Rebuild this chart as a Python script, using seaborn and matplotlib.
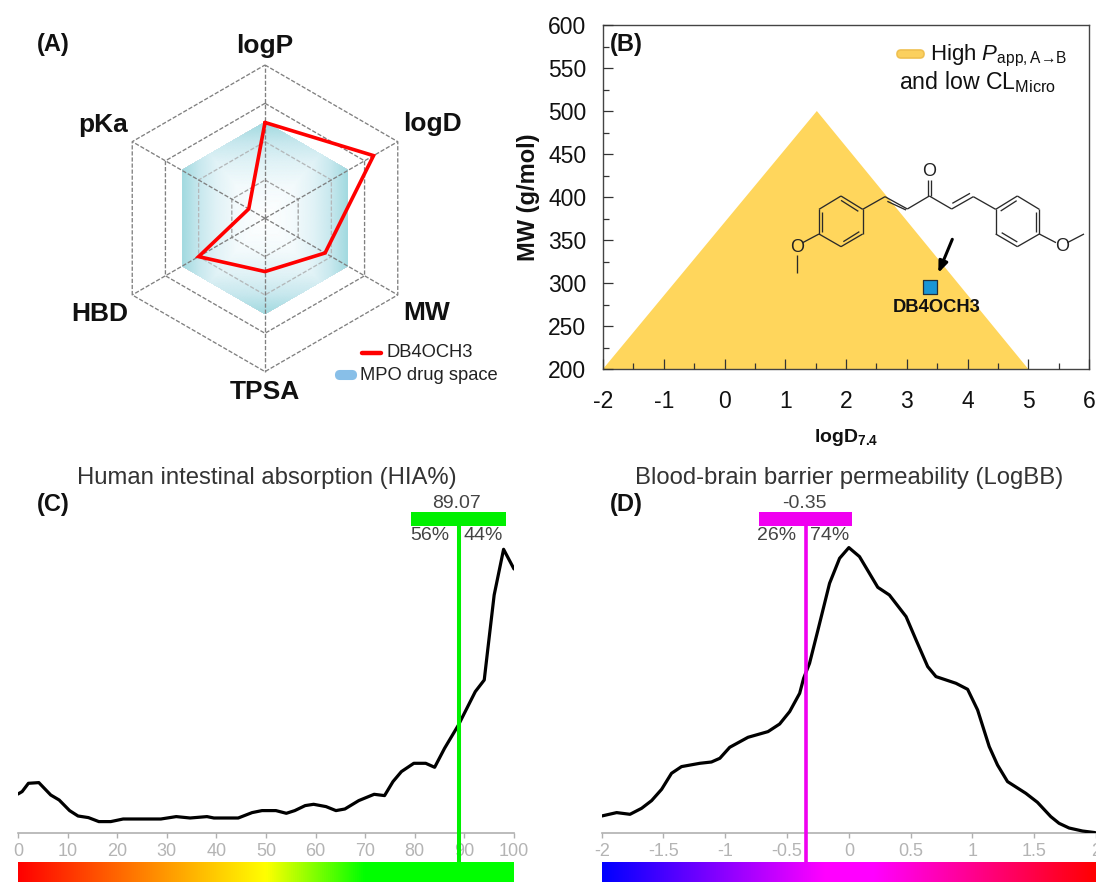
import numpy as np
import pandas as pd
import matplotlib
matplotlib.use("Agg")
import matplotlib.pyplot as plt
import seaborn as sns
from matplotlib.collections import LineCollection
from matplotlib.colors import LinearSegmentedColormap
from matplotlib.patches import FancyBboxPatch

# ---------------- data ----------------
RADAR_AXES = ["logP", "logD", "MW", "TPSA", "HBD", "pKa"]
DB4OCH3_SCORES = [2.5, 3.27, 1.81, 1.39, 2.0, 0.49]
MPO_SPACE_SCORE = 2.5
RADAR_RINGS = [1, 2, 3, 4]

TRI_LOGD = [-2, 1.52, 5]
TRI_MW = [200, 500, 200]
COMPOUND_LOGD = [3.38]
COMPOUND_MW = [295]

HIA_X = [0, 0.83, 2.1, 4.2, 6.6, 8.3, 10.4, 12.1, 14.2, 16.3, 18.7, 21.2, 28.8, 31.9, 34.7, 38.1,
         39.5, 44.4, 47.2, 49.2, 52, 54.1, 55.8, 57.9, 59.6, 62.1, 64.1, 65.9, 68.7, 71.8, 73.9,
         75.6, 77.3, 79.8, 82.2, 84, 86, 88.8, 92.2, 94, 94.7, 96, 97.9, 100]
HIA_DENSITY = [39.3, 41.7, 50, 50.7, 38.3, 33.3, 22.7, 17.3, 15.7, 11.7, 11.7, 14.3, 14.3, 16.7, 15.3, 16.7,
               15.3, 15.3, 20.7, 22.7, 22.7, 20, 22.7, 27.7, 29, 26.7, 22.7, 24.3, 32.7, 39, 37.7,
               51.7, 61.7, 70, 70, 66, 85, 108.3, 141.7, 153.3, 183.3, 238.3, 284, 264.3]
HIA_VALUE = 89.07
HIA_TICKS = list(range(0, 101, 10))

BB_X = [-2.0, -1.879, -1.771, -1.677, -1.596, -1.515, -1.435, -1.354, -1.206, -1.112, -1.044, -0.964,
        -0.816, -0.654, -0.56, -0.479, -0.398, -0.366, -0.318, -0.25, -0.156, -0.075, 0, 0.086, 0.234,
        0.328, 0.463, 0.544, 0.638, 0.705, 0.867, 0.961, 1.042, 1.136, 1.203, 1.284, 1.432, 1.526,
        1.634, 1.701, 1.782, 1.89, 1.992]
BB_DENSITY = [17.3, 20.7, 19, 25, 32.7, 44, 60, 66.7, 70, 71.3, 75, 86, 96, 101.7, 109.3, 121.7, 140, 155,
              170, 203.3, 250, 275, 285.7, 276.7, 246, 238.3, 216.7, 193.3, 166.7, 156.7, 150, 144,
              123.3, 86.7, 68.3, 51.7, 40, 31, 16.7, 10, 5.3, 2.3, 0.7]
BB_VALUE = -0.345
BB_TICKS = [-2, -1.5, -1, -0.5, 0, 0.5, 1, 1.5, 2]
BB_TICKLABELS = ["-2", "-1.5", "-1", "-0.5", "0", "0.5", "1", "1.5", "2"]
LOGD_TICKLABELS = ["-2", "-1", "0", "1", "2", "3", "4", "5", "6"]

# structural formula: bonds as (x0, y0, x1, y1) in the zoomed sketch frame
MOLECULE_BONDS = [
    (183, 138, 248, 178), (248, 178, 248, 252), (248, 252, 183, 290), (183, 290, 117, 252),
    (117, 252, 117, 178), (117, 178, 183, 138), (127, 187, 127, 245), (183, 151, 235, 184),
    (190, 275, 238, 245), (248, 178, 315, 140), (315, 140, 382, 177), (322, 154, 378, 180),
    (382, 177, 448, 138), (443, 138, 443, 90), (454, 138, 454, 90), (448, 138, 515, 177),
    (515, 177, 580, 140), (517, 160, 570, 130), (580, 140, 647, 178), (712, 138, 778, 178),
    (778, 178, 778, 252), (778, 252, 712, 290), (712, 290, 647, 252), (647, 252, 647, 178),
    (647, 178, 712, 138), (662, 183, 710, 152), (768, 187, 768, 245), (665, 248, 712, 276),
    (778, 252, 828, 278), (862, 278, 912, 252), (117, 252, 68, 278), (50, 315, 50, 368),
]
MOLECULE_OXYGENS = [(447, 65), (845, 290), (50, 292)]

# ---------------- style ----------------
sns.set_theme(style="white")
plt.rcParams["font.family"] = ["Liberation Sans", "DejaVu Sans"]
plt.rcParams["mathtext.fontset"] = "custom"
plt.rcParams["mathtext.rm"] = "Liberation Sans"
plt.rcParams["mathtext.it"] = "Liberation Sans:italic"
plt.rcParams["mathtext.bf"] = "Liberation Sans:bold"

W, H = 1096, 882
fig = plt.figure(figsize=(W / 100, H / 100), dpi=100)


def axes_px(left, top, right, bottom, **kw):
    return fig.add_axes([left / W, 1 - bottom / H, (right - left) / W, (bottom - top) / H], **kw)


# ---------------- (A) radar ----------------
cx, cy, rad = 265, 218.3, 153.3
ax_a = axes_px(cx - rad, cy - rad, cx + rad, cy + rad, projection="polar")
ax_a.set_theta_zero_location("N")
ax_a.set_theta_direction(-1)
angles = np.deg2rad(np.arange(len(RADAR_AXES)) * 60.0)
closed = np.r_[angles, angles[0] + 2 * np.pi]

tt, rr = np.meshgrid(np.linspace(0, 2 * np.pi, 721), np.linspace(0, MPO_SPACE_SCORE * 1.02, 160))
xx, yy = rr * np.sin(tt), rr * np.cos(tt)
shade = np.maximum(np.abs(xx) / (MPO_SPACE_SCORE * np.cos(np.pi / 6)), np.abs(yy) / MPO_SPACE_SCORE)
cmap_space = LinearSegmentedColormap.from_list(
    "space", [(0, "#ffffff"), (0.35, "#f3fafc"), (0.6, "#e0f2f6"), (0.8, "#c8e8ee"), (1, "#a3dae0")])
mesh = ax_a.pcolormesh(tt, rr, np.clip(shade, 0, 1), shading="gouraud", cmap=cmap_space, vmin=0, vmax=1, zorder=1)
hexagon = ax_a.fill(closed, np.full(closed.shape, MPO_SPACE_SCORE), facecolor="none", edgecolor="none", zorder=1)[0]
mesh.set_clip_path(hexagon)

dash = (0, (3.2, 1.4))
ring_colors = {1: "#a0a0a0", 2: "#b4b8ba", 3: "#808080", 4: "#808080"}
for ring in RADAR_RINGS:
    sns.lineplot(x=closed, y=np.full(closed.shape, float(ring)), ax=ax_a, color=ring_colors[ring], lw=0.95,
                 linestyle=dash, sort=False, estimator=None, zorder=2)
for ang in angles:
    sns.lineplot(x=[ang, ang], y=[0, RADAR_RINGS[-1]], ax=ax_a, color="#808080", lw=0.95, linestyle=dash,
                 sort=False, estimator=None, zorder=2)
sns.lineplot(x=closed, y=DB4OCH3_SCORES + DB4OCH3_SCORES[:1], ax=ax_a, color="#ff0000", lw=2.6, sort=False,
             estimator=None, zorder=5)
ax_a.lines[-1].set_solid_joinstyle("miter")
ax_a.set_rlim(0, RADAR_RINGS[-1])
ax_a.set_axis_off()
for ln in ax_a.lines:
    ln.set_clip_on(False)

# ---------------- (B) space plot ----------------
ax_b = axes_px(603, 25, 1089, 369)
ax_b.set_axisbelow(False)
ax_b.fill(TRI_LOGD, TRI_MW, color="#ffd65c", lw=0, zorder=1)
sns.scatterplot(x=COMPOUND_LOGD, y=COMPOUND_MW, ax=ax_b, marker="s", s=90, color="#1a96d6", edgecolor="#24303a",
                linewidth=0.9, zorder=5)
ax_b.set_xlim(-2, 6)
ax_b.set_ylim(200, 600)
ax_b.set_xticks(range(-2, 7))
ax_b.set_xticklabels(LOGD_TICKLABELS)
ax_b.set_xticks(np.arange(-1.5, 6, 1), minor=True)
ax_b.set_yticks(range(200, 601, 50))
ax_b.set_yticks(range(225, 600, 50), minor=True)
ax_b.tick_params(which="major", direction="in", length=7, width=0.9, color="#333333", labelsize=16.5,
                 labelcolor="#111111", bottom=True, left=True)
ax_b.tick_params(which="minor", direction="in", length=4.5, width=0.9, color="#333333", bottom=True, left=True)
ax_b.tick_params(axis="x", which="major", pad=15)
ax_b.tick_params(axis="y", which="major", pad=12)
for s in ax_b.spines.values():
    s.set_color("#444444")
    s.set_linewidth(1.0)
ax_b.set_xlabel(r"logD$_{\mathbf{7.4}}$", fontsize=14, fontweight="bold", color="#111111")
ax_b.xaxis.set_label_coords(0.5, -0.17)
ax_b.set_ylabel("MW (g/mol)", fontsize=17, fontweight="bold", color="#111111")
ax_b.yaxis.set_label_coords(-0.13, 0.5)


# ---------------- (C), (D) density panels ----------------
def density_panel(left, right, xs, ys, xlim, ticks, ticklabels, value, color, lw_v, bar_span, cmap_colors):
    ax = axes_px(left, 505, right, 833.3)
    sns.lineplot(x=xs, y=ys, ax=ax, color="black", lw=2.3, sort=False, estimator=None, zorder=3)
    ax.set_xlim(*xlim)
    ax.set_ylim(0, 328.3)
    ax.set_yticks([])
    ax.set_xticks(ticks)
    ax.set_xticklabels(ticklabels)
    ax.tick_params(axis="x", direction="out", bottom=True, length=3.8, width=1.0, color="#b0b0b0", labelsize=13,
                   labelcolor="#b4b4b4", pad=3)
    sns.despine(ax=ax, left=True, top=True, right=True)
    ax.spines["bottom"].set_color("#b0b0b0")
    ax.spines["bottom"].set_linewidth(1.2)
    ax.patch.set_alpha(0)
    # value marker: stem down to the colour bar and a head bar at the top
    ax.plot([value, value], [-28.7, 307.6], color=color, lw=lw_v, solid_capstyle="butt", clip_on=False, zorder=4)
    ax.fill_between(bar_span, 307.6, 321.3, color=color, lw=0, zorder=4, clip_on=False)
    bar = axes_px(left, 862, right, 882)
    bar.imshow(np.linspace(0, 1, 512)[None, :], aspect="auto", cmap=LinearSegmentedColormap.from_list("b", cmap_colors),
               extent=[xlim[0], xlim[1], 0, 1])
    bar.set_axis_off()
    return ax


density_panel(18, 514, HIA_X, HIA_DENSITY, (0, 100), HIA_TICKS, [str(t) for t in HIA_TICKS], 88.97,
              "#00f000", 2.9, [79.2, 98.3],
              [(0.0, "#ff0000"), (0.25, "#ff8000"), (0.5, "#ffff00"), (0.7, "#00ff00"), (1.0, "#00ff00")])
density_panel(601.7, 1096, BB_X, BB_DENSITY, (-2, 2), BB_TICKS, BB_TICKLABELS, BB_VALUE,
              "#f000f0", 2.6, [-0.73, 0.027],
              [(0.0, "#0000ff"), (0.45, "#ff00ff"), (0.55, "#ff00ff"), (1.0, "#ff0000")])

# ---------------- overlay: text, legends, formula ----------------
ov = fig.add_axes([0, 0, 1, 1])
ov.set_xlim(0, W)
ov.set_ylim(H, 0)
ov.set_axis_off()
ov.patch.set_alpha(0)

for label, x, y in [("(A)", 53, 45), ("(B)", 626, 45), ("(C)", 53, 504), ("(D)", 626, 504)]:
    ov.text(x, y, label, ha="center", va="center", fontsize=17, fontweight="bold", color="#111111")

radar_labels = {"logP": (265, 46, "center"), "logD": (403, 124, "left"), "MW": (403, 313, "left"),
                "TPSA": (265, 392, "center"), "HBD": (128, 314, "right"), "pKa": (128, 125, "right")}
for name in RADAR_AXES:
    x, y, ha = radar_labels[name]
    ov.text(x, y, name, ha=ha, va="center", fontsize=19, fontweight="bold", color="#111111")

ov.plot([362, 381], [353, 353], color="#ff0000", lw=3.2, solid_capstyle="round")
ov.text(386, 352.5, "DB4OCH3", ha="left", va="center", fontsize=13.2, color="#222222")
ov.add_patch(FancyBboxPatch((336, 371), 20, 8, boxstyle="round,pad=0,rounding_size=4", mutation_aspect=1,
                            fc="#88bfe8", ec="#88bfe8", lw=1.5))
ov.text(360.5, 375, "MPO drug space", ha="left", va="center", fontsize=13.2, color="#222222")

ov.add_patch(FancyBboxPatch((897, 50), 27, 8, boxstyle="round,pad=0,rounding_size=4", fc="#fbd05e", ec="#efc050", lw=1.2))
ov.text(930, 60, "High $\\mathit{P}_{\\mathrm{app,A→B}}$", ha="left", va="baseline", fontsize=16, color="#111111")
ov.text(899, 89, "and low CL$_{\\mathrm{Micro}}$", ha="left", va="baseline", fontsize=16.7, color="#111111")

segs = [[(780 + a / 3, 150 + b / 3), (780 + c / 3, 150 + d / 3)] for a, b, c, d in MOLECULE_BONDS]
ov.add_collection(LineCollection(segs, colors="#2a2a2a", linewidths=0.95))
for a, b in MOLECULE_OXYGENS:
    ov.text(780 + a / 3, 150 + b / 3, "O", ha="center", va="center", fontsize=13, color="#222222")
ov.annotate("", xy=(938.3, 273), xytext=(952.3, 239.3),
            arrowprops=dict(arrowstyle="-|>,head_length=0.55,head_width=0.22", color="black", lw=2.2, shrinkA=0, shrinkB=0))
ov.text(937, 307, "DB4OCH3", ha="center", va="center", fontsize=13.2, fontweight="bold", color="#111111")

title_kw = dict(ha="center", va="center", fontsize=17.2, color="#333333")
ov.text(267, 478, "Human intestinal absorption (HIA%)", **title_kw)
ov.text(849, 478, "Blood-brain barrier permeability (LogBB)", **title_kw)

anno_kw = dict(ha="center", va="center", fontsize=14, color="#444444")
ov.text(456.7, 504, "89.07", **anno_kw)
ov.text(430, 535, "56%", **anno_kw)
ov.text(483.5, 535, "44%", **anno_kw)
ov.text(804, 504, "-0.35", **anno_kw)
ov.text(777, 535, "26%", **anno_kw)
ov.text(830, 535, "74%", **anno_kw)

fig.savefig("out.png", dpi=100)
